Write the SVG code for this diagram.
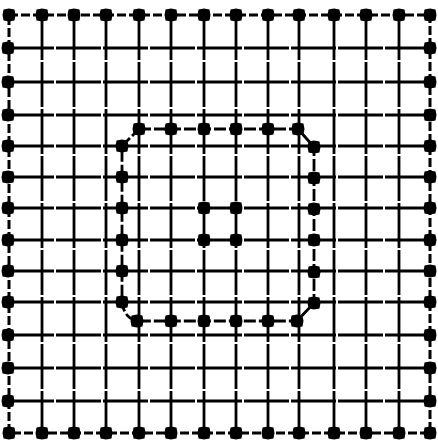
<svg xmlns="http://www.w3.org/2000/svg" width="438" height="447" viewBox="0 0 438 447">
<style>
.grid{stroke:#000;stroke-width:2.8;fill:none;stroke-dasharray:45 2;}
.border{stroke:#000;stroke-width:3;fill:none;stroke-dasharray:9 3;}
.loop{stroke:#000;stroke-width:2.8;fill:none;stroke-dasharray:12 3;}
.m{fill:#000;}
</style>
<defs>
<path id="mk" class="m" d="M-5.5,-5.5 L0,-6.5 L5.5,-5.5 L6.5,0 L5.5,5.5 L0,6.5 L-5.5,5.5 L-6.5,0 Z"/>
</defs>
<rect width="438" height="447" fill="#fff"/>
<g id="grid">
<line class="grid" x1="42" y1="15" x2="42" y2="433"/>
<line class="grid" x1="74" y1="15" x2="74" y2="433"/>
<line class="grid" x1="106" y1="15" x2="106" y2="433"/>
<line class="grid" x1="139" y1="15" x2="139" y2="433"/>
<line class="grid" x1="171" y1="15" x2="171" y2="433"/>
<line class="grid" x1="204" y1="15" x2="204" y2="433"/>
<line class="grid" x1="236" y1="15" x2="236" y2="433"/>
<line class="grid" x1="268" y1="15" x2="268" y2="433"/>
<line class="grid" x1="299" y1="15" x2="299" y2="433"/>
<line class="grid" x1="334" y1="15" x2="334" y2="433"/>
<line class="grid" x1="366" y1="15" x2="366" y2="433"/>
<line class="grid" x1="399" y1="15" x2="399" y2="433"/>
<line class="grid" x1="9" y1="48" x2="430" y2="48"/>
<line class="grid" x1="9" y1="82" x2="430" y2="82"/>
<line class="grid" x1="9" y1="115" x2="430" y2="115"/>
<line class="grid" x1="9" y1="146" x2="430" y2="146"/>
<line class="grid" x1="9" y1="177" x2="430" y2="177"/>
<line class="grid" x1="9" y1="208" x2="430" y2="208"/>
<line class="grid" x1="9" y1="240" x2="430" y2="240"/>
<line class="grid" x1="9" y1="271" x2="430" y2="271"/>
<line class="grid" x1="9" y1="302" x2="430" y2="302"/>
<line class="grid" x1="9" y1="335" x2="430" y2="335"/>
<line class="grid" x1="9" y1="368" x2="430" y2="368"/>
<line class="grid" x1="9" y1="401" x2="430" y2="401"/>
</g>
<g id="border">
<rect class="border" x="9" y="15" width="421" height="418"/>
</g>
<g id="inner-loop">
<path class="loop" d="M139,129 L298,129 L314,147 L314,303 L297,321 L137,321 Q124,318 122,302 L122,146 Z"/>
</g>
<g id="outer-markers">
<use href="#mk" x="9" y="15"/><use href="#mk" x="42" y="15"/><use href="#mk" x="74" y="15"/><use href="#mk" x="106" y="15"/><use href="#mk" x="139" y="15"/><use href="#mk" x="171" y="15"/><use href="#mk" x="204" y="15"/><use href="#mk" x="236" y="15"/><use href="#mk" x="268" y="15"/><use href="#mk" x="299" y="15"/><use href="#mk" x="334" y="15"/><use href="#mk" x="366" y="15"/><use href="#mk" x="399" y="15"/><use href="#mk" x="430" y="15"/>
<use href="#mk" x="9" y="433"/><use href="#mk" x="42" y="433"/><use href="#mk" x="74" y="433"/><use href="#mk" x="106" y="433"/><use href="#mk" x="139" y="433"/><use href="#mk" x="171" y="433"/><use href="#mk" x="204" y="433"/><use href="#mk" x="236" y="433"/><use href="#mk" x="268" y="433"/><use href="#mk" x="299" y="433"/><use href="#mk" x="334" y="433"/><use href="#mk" x="366" y="433"/><use href="#mk" x="399" y="433"/><use href="#mk" x="430" y="433"/>
<use href="#mk" x="8" y="48"/><use href="#mk" x="8" y="82"/><use href="#mk" x="8" y="115"/><use href="#mk" x="8" y="146"/><use href="#mk" x="8" y="177"/><use href="#mk" x="8" y="208"/><use href="#mk" x="8" y="240"/><use href="#mk" x="8" y="271"/><use href="#mk" x="8" y="302"/><use href="#mk" x="8" y="335"/><use href="#mk" x="8" y="368"/><use href="#mk" x="8" y="401"/>
<use href="#mk" x="430" y="48"/><use href="#mk" x="430" y="82"/><use href="#mk" x="430" y="115"/><use href="#mk" x="430" y="146"/><use href="#mk" x="430" y="177"/><use href="#mk" x="430" y="208"/><use href="#mk" x="430" y="240"/><use href="#mk" x="430" y="271"/><use href="#mk" x="430" y="302"/><use href="#mk" x="430" y="335"/><use href="#mk" x="430" y="368"/><use href="#mk" x="430" y="401"/>
</g>
<g id="inner-markers">
<use href="#mk" x="139" y="129"/><use href="#mk" x="171" y="129"/><use href="#mk" x="204" y="129"/><use href="#mk" x="236" y="129"/><use href="#mk" x="268" y="129"/><use href="#mk" x="298" y="129"/>
<use href="#mk" x="314" y="147"/><use href="#mk" x="314" y="178"/><use href="#mk" x="314" y="209"/><use href="#mk" x="314" y="240"/><use href="#mk" x="314" y="272"/><use href="#mk" x="314" y="303"/>
<use href="#mk" x="297" y="321"/><use href="#mk" x="268" y="321"/><use href="#mk" x="236" y="321"/><use href="#mk" x="204" y="321"/><use href="#mk" x="171" y="321"/><use href="#mk" x="137" y="321"/>
<use href="#mk" x="122" y="302"/><use href="#mk" x="122" y="271"/><use href="#mk" x="122" y="240"/><use href="#mk" x="122" y="208"/><use href="#mk" x="122" y="177"/><use href="#mk" x="122" y="146"/>
</g>
<g id="center-markers">
<use href="#mk" x="204" y="208"/><use href="#mk" x="236" y="208"/><use href="#mk" x="204" y="240"/><use href="#mk" x="236" y="240"/>
</g>
</svg>
